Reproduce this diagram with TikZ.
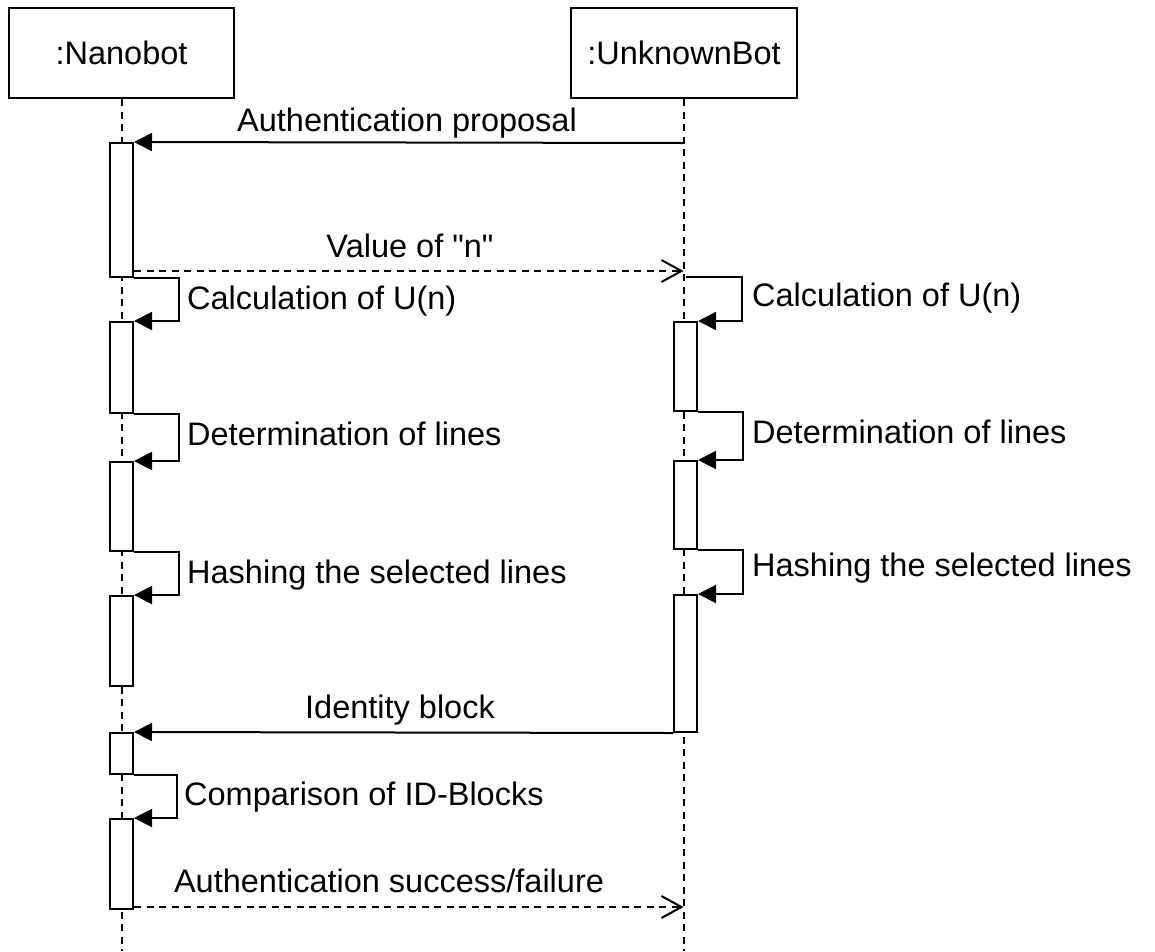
\documentclass[tikz,border=0pt]{standalone}
\usepackage{fontspec}
\setmainfont{Liberation Sans}[Ligatures=TeXOff]
\usetikzlibrary{arrows.meta}

\tikzset{
  lbl/.style={inner sep=0pt, font=\fontsize{32.5}{39}\selectfont},
  objbox/.style={draw, line width=2pt, fill=white, minimum width=225pt, minimum height=90pt,
    inner sep=0pt, font=\fontsize{32.5}{39}\selectfont},
  lifeline/.style={line width=2pt, dash pattern=on 7pt off 5.5pt},
  actbar/.style={draw, line width=2pt, fill=white, minimum width=23pt, inner sep=0pt},
  callmsg/.style={line width=2pt, -{Triangle[length=18pt,width=18pt]}},
  selfmsg/.style={line width=2pt, -{Triangle[length=18pt,width=18pt]}},
  replymsg/.style={line width=2pt, dash pattern=on 7pt off 5.5pt,
    -{Straight Barb[length=20pt,width=22pt,line width=2pt]}},
}

\begin{document}
\begin{tikzpicture}[x=1pt, y=-1pt]
\useasboundingbox (0,0) rectangle (1155,951);

% participants
\node[objbox, minimum width=225pt] (nano) at (121.5,53) {:Nanobot};
\node[objbox, minimum width=226pt] (unkn) at (684,53) {:UnknownBot};

% lifelines
\coordinate (nanoEnd) at (121.5,951);
\coordinate (unknEnd) at (683.5,951);
\draw[lifeline] (nano.south) -- (nanoEnd);
\draw[lifeline] (unkn.south -| unknEnd) -- (unknEnd);

% activation bars of :Nanobot
\node[actbar, minimum height=134pt] (na1) at (121.5,210) {};
\node[actbar, minimum height=91pt]  (na2) at (121.5,367.5) {};
\node[actbar, minimum height=89pt]  (na3) at (121.5,506.5) {};
\node[actbar, minimum height=90pt]  (na4) at (121.5,641) {};
\node[actbar, minimum height=41pt]  (na5) at (121.5,753.5) {};
\node[actbar, minimum height=90pt]  (na6) at (121.5,864) {};

% activation bars of :UnknownBot
\node[actbar, minimum height=89pt]  (ua1) at (685.5,366.5) {};
\node[actbar, minimum height=88pt]  (ua2) at (685.5,505) {};
\node[actbar, minimum height=137pt] (ua3) at (685.5,663.5) {};

% points on the UnknownBot lifeline
\coordinate (uProp)  at (683.5,143);
\coordinate (uValue) at (683.5,271);
\coordinate (uCalc)  at (686,277);
\coordinate (uRes)   at (683.5,907);

% Authentication proposal
\draw[callmsg] (uProp) -- (na1.north east);
\node[lbl, anchor=base] (tProp) at (407,131) {Authentication proposal};

% Value of "n"
\draw[replymsg] (na1.east |- uValue) -- (uValue);
\node[lbl, anchor=base] (tValue) at (410,257) {Value of "n"};

% self calls on :Nanobot
\draw[selfmsg] (na1.south east) -- ++(45,0) |- (na2.north east);
\node[lbl, anchor=base west] (tNCalc) at (187,309) {Calculation of U(n)};
\draw[selfmsg] (na2.south east) -- ++(45,0) |- (na3.north east);
\node[lbl, anchor=base west] (tNDet) at (187,445) {Determination of lines};
\draw[selfmsg] (na3.south east) -- ++(45,0) |- (na4.north east);
\node[lbl, anchor=base west] (tNHash) at (187,583) {Hashing the selected lines};

% self calls on :UnknownBot
\draw[selfmsg] (uCalc) -- (742,277) |- (ua1.north east);
\node[lbl, anchor=base west] (tUCalc) at (752,306) {Calculation of U(n)};
\draw[selfmsg] (ua1.south east) -- ++(45,0) |- (ua2.north east);
\node[lbl, anchor=base west] (tUDet) at (752,443) {Determination of lines};
\draw[selfmsg] (ua2.south east) -- ++(45,0) |- (ua3.north east);
\node[lbl, anchor=base west] (tUHash) at (752,576) {Hashing the selected lines};

% Identity block
\draw[callmsg] (ua3.south west) -- (na5.north east);
\node[lbl, anchor=base] (tId) at (400,718) {Identity block};

% Comparison of ID-Blocks
\draw[selfmsg] (na5.south east) -- ++(43,0) |- (na6.north east);
\node[lbl, anchor=base west] (tCmp) at (184,805) {Comparison of ID-Blocks};

% Authentication success/failure
\draw[replymsg] (na6.east |- uRes) -- (uRes);
\node[lbl, anchor=base] (tRes) at (389,892) {Authentication success/failure};
\end{tikzpicture}
\end{document}
